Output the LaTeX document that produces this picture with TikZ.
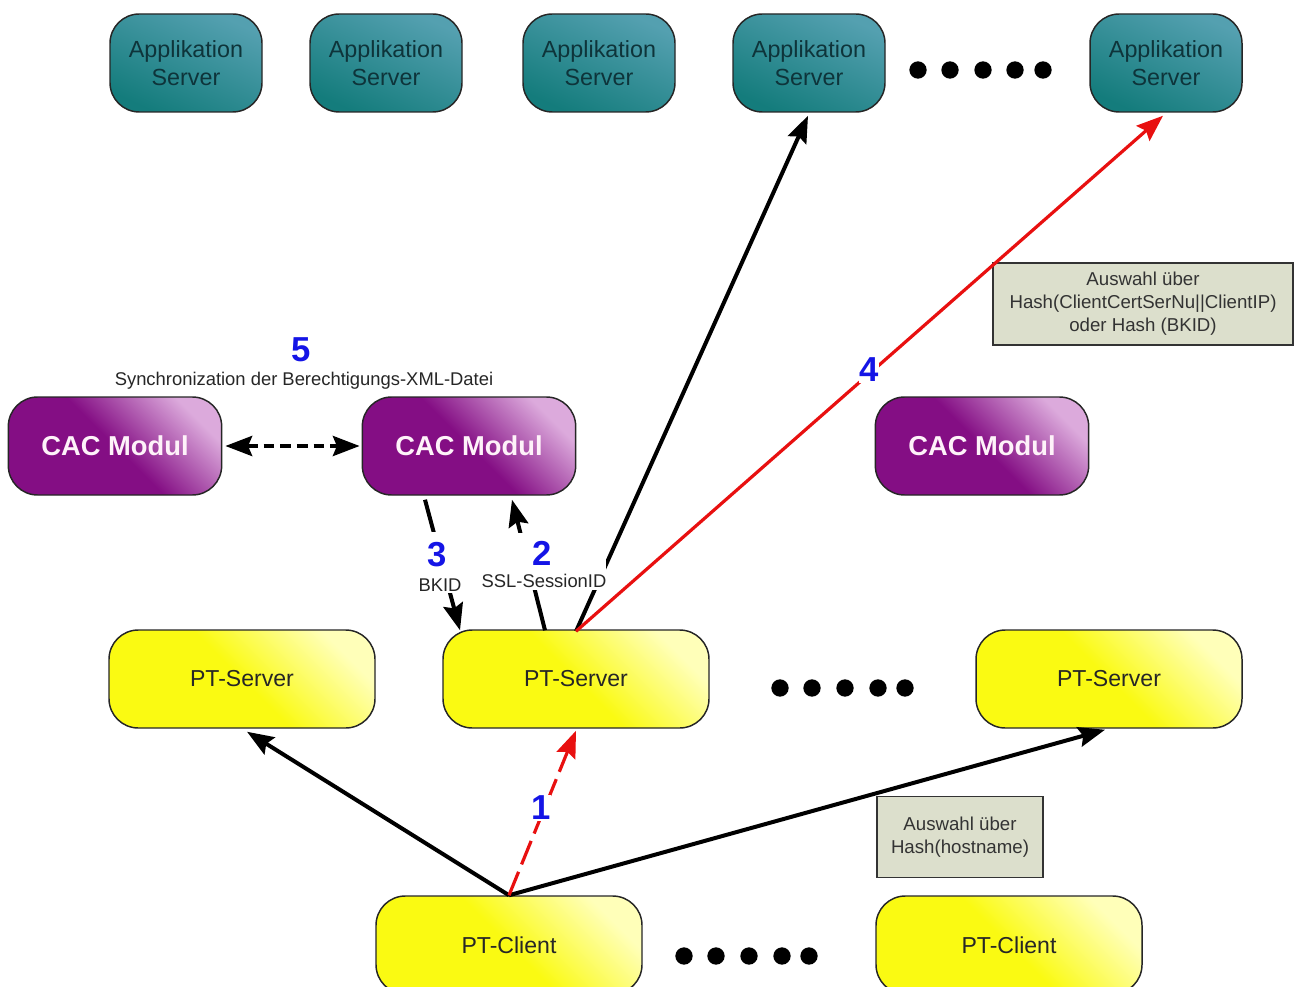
\documentclass[tikz,border=0pt]{standalone}
\usepackage{fontspec}
\setmainfont{Liberation Sans}
\usetikzlibrary{arrows.meta,calc}
\definecolor{tealtop}{RGB}{84,160,176}
\definecolor{tealbot}{RGB}{20,124,124}
\definecolor{apptext}{RGB}{14,52,58}
\definecolor{cacbase}{RGB}{132,14,132}
\definecolor{caclight}{RGB}{220,170,220}
\definecolor{ybase}{RGB}{250,250,18}
\definecolor{ylight}{RGB}{255,255,185}
\definecolor{notefill}{RGB}{220,223,204}
\definecolor{numblue}{RGB}{20,20,230}
\definecolor{arrred}{RGB}{232,16,16}
\begin{document}
\begin{tikzpicture}[x=0.75pt,y=-0.75pt,
  glare/.style 2 args={top color=#2, bottom color=#1, middle color=#1,
    shading angle=-45},
  appbox/.style={draw=black!85, line width=1.1pt, rounded corners=22pt,
    minimum width=114pt, minimum height=73.5pt, inner sep=0pt,
    top color=tealtop, bottom color=tealbot, shading angle=-25,
    text=apptext, align=center, font=\fontsize{17.5}{20.5}\selectfont},
  cacbox/.style={draw=black!85, line width=1.1pt, rounded corners=22pt,
    minimum width=160pt, minimum height=73.5pt, inner sep=0pt,
    glare={cacbase}{caclight},
    text=white!95!magenta, font=\fontsize{20.5}{24}\selectfont\bfseries},
  ptbox/.style={draw=black!85, line width=1.1pt, rounded corners=22pt,
    minimum width=199.5pt, minimum height=73.5pt, inner sep=0pt,
    glare={ybase}{ylight},
    text=black!85, font=\fontsize{17.3}{20}\selectfont},
  notebox/.style={draw=black!80, line width=1.1pt, fill=notefill,
    inner sep=0pt, align=center, text=black!80,
    font=\fontsize{14}{17.2}\selectfont},
  dot/.style={circle, fill=black, minimum size=13pt, inner sep=0pt},
  conn/.style={line width=3pt, -{Stealth[length=20pt,width=15pt,inset=3pt]}},
  redconn/.style={line width=2.4pt, draw=arrred,
    -{Stealth[length=20pt,width=15pt,inset=3pt]}},
  numlbl/.style={text=numblue, font=\fontsize{26}{28}\selectfont\bfseries,
    fill=white, inner sep=1.5pt},
  txtlbl/.style={text=black!85, font=\fontsize{13.8}{16}\selectfont,
    fill=white, inner sep=1.5pt}
]
\useasboundingbox (0,0) rectangle (1301,987);

% Application servers
\node[appbox] (as1) at (186,63) {Applikation\\Server};
\node[appbox] (as2) at (386,63) {Applikation\\Server};
\node[appbox] (as3) at (599,63) {Applikation\\Server};
\node[appbox] (as4) at (809,63) {Applikation\\Server};
\node[appbox] (as5) at (1166,63) {Applikation\\Server};
\node[dot] (td1) at (918,70) {};
\node[dot] (td2) at (950,70) {};
\node[dot] (td3) at (983,70) {};
\node[dot] (td4) at (1015,70) {};
\node[dot] (td5) at (1043,70) {};

% CAC modules
\node[cacbox] (cac1) at (115,446) {CAC Modul};
\node[cacbox] (cac2) at (469,446) {CAC Modul};
\node[cacbox] (cac3) at (982,446) {CAC Modul};

% PT servers
\node[ptbox] (ps1) at (242,679) {PT-Server};
\node[ptbox] (ps2) at (576,679) {PT-Server};
\node[ptbox] (ps3) at (1109,679) {PT-Server};
\node[dot] (md1) at (780,688) {};
\node[dot] (md2) at (812,688) {};
\node[dot] (md3) at (845,688) {};
\node[dot] (md4) at (878,688) {};
\node[dot] (md5) at (905,688) {};

% PT clients
\node[ptbox] (pc1) at (509,945) {PT-Client};
\node[ptbox] (pc2) at (1009,945) {PT-Client};
\node[dot] (bd1) at (684,956) {};
\node[dot] (bd2) at (716,956) {};
\node[dot] (bd3) at (749,956) {};
\node[dot] (bd4) at (782,956) {};
\node[dot] (bd5) at (809,956) {};

% Notes
\node[notebox, minimum width=225pt, minimum height=61.5pt] (note1) at (1143,304)
  {Auswahl über\\Hash(ClientCertSerNu||ClientIP)\\oder Hash (BKID)};
\node[notebox, minimum width=124.5pt, minimum height=61pt] (note2) at (960,837)
  {Auswahl über\\Hash(hostname)};

% Connectors
\coordinate (ps2top) at ($(ps2.north)+(0,2)$);
\draw[conn] (pc1.north) -- ($(ps1.south)+(5,3)$);
\draw[conn] (pc1.north) -- ($(ps3.south)+(-4,1)$);
\draw[redconn, dash pattern=on 19pt off 6pt] (pc1.north) -- ($(ps2.south)+(0,2)$);
\draw[conn] (ps2top) -- ($(as4.south)+(-1,3)$);
\draw[redconn] (ps2top) -- ($(as5.south)+(-3,3)$);
\draw[conn] ($(cac2.south)+(-44,4)$) -- ($(ps2.north)+(-116,1)$);
\draw[conn] ($(ps2.north)+(-31,1)$) -- ($(cac2.south)+(43,4)$);
\draw[line width=3pt, dash pattern=on 8pt off 4.5pt,
  {Stealth[length=20pt,width=15pt,inset=3pt]}-{Stealth[length=20pt,width=15pt,inset=3pt]}]
  ($(cac1.east)+(3,0)$) -- ($(cac2.west)+(-2,0)$);

% Labels
\node[numlbl, fill=none] (n5) at (301,350) {5};
\node[txtlbl, fill=none] (t5) at (304,381) {Synchronization der Berechtigungs-XML-Datei};
\node[numlbl, minimum height=34pt] (n3) at (437,555) {3};
\node[txtlbl] (t3) at (440,585) {BKID};
\node[numlbl, minimum height=30pt, minimum width=96pt] (n2) at (542,553) {2};
\node[txtlbl] (t2) at (544,581) {SSL-SessionID};
\node[numlbl, inner sep=0.5pt] (n4) at (869,370) {4};
\node[numlbl, inner sep=0.5pt] (n1) at (541,808) {1};
\end{tikzpicture}
\end{document}
